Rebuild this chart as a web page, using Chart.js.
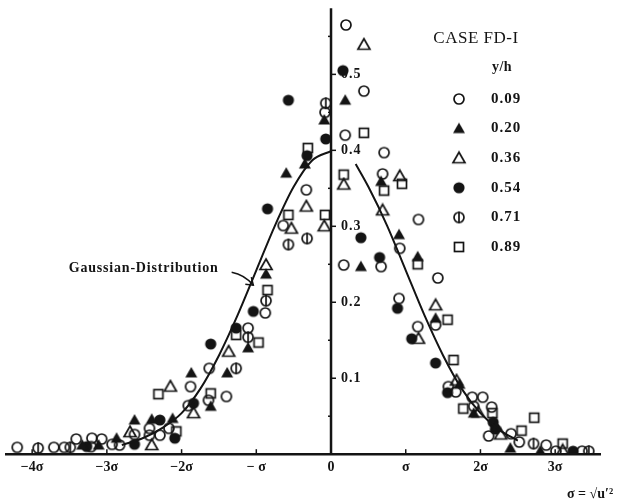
<!DOCTYPE html>
<html>
<head>
<meta charset="utf-8">
<script src="https://cdn.jsdelivr.net/npm/chart.js@4.4.1/dist/chart.umd.min.js"></script>
<style>
  body { margin: 0; background: #fff; }
  canvas { display: block; }
</style>
</head>
<body>
<canvas id="chart" width="626" height="500"></canvas>
<script>
const INK = '#141414';
const SERIF = '"Liberation Serif", "DejaVu Serif", serif';

// axes
const xTickValues = [-4, -3, -2, -1, 0, 1, 2, 3];
const xTickLabels = ['\u22124\u03c3', '\u22123\u03c3', '\u22122\u03c3', '\u2212 \u03c3', '0', '\u03c3', '2\u03c3', '3\u03c3'];
const yTickValues = [0.1, 0.2, 0.3, 0.4, 0.5];
const yTickLabels = ['0.1', '0.2', '0.3', '0.4', '0.5'];

// y/h legend labels
const seriesNames = ['0.09', '0.20', '0.36', '0.54', '0.71', '0.89'];

// measured points [u/sigma, probability density]
const s009 = [[-4.2, 0.009], [-3.71, 0.009], [-3.57, 0.009], [-3.41, 0.02], [-3.2, 0.021], [-3.21, 0.01], [-3.07, 0.02],
  [-2.93, 0.013], [-2.83, 0.012], [-2.63, 0.026], [-2.43, 0.034], [-2.43, 0.025], [-2.29, 0.025], [-2.17, 0.034],
  [-1.91, 0.064], [-1.88, 0.089], [-1.64, 0.071], [-1.63, 0.113], [-1.4, 0.076], [-1.11, 0.166], [-0.88, 0.186],
  [-0.64, 0.301], [-0.33, 0.348], [-0.08, 0.45], [0.2, 0.565], [0.44, 0.478], [0.19, 0.42], [0.71, 0.397],
  [0.69, 0.369], [0.17, 0.249], [0.67, 0.247], [0.92, 0.271], [1.17, 0.309], [1.43, 0.232], [0.91, 0.205],
  [1.16, 0.168], [1.4, 0.17], [1.57, 0.089], [1.67, 0.082], [1.89, 0.075], [2.03, 0.075], [1.91, 0.063],
  [2.15, 0.062], [2.11, 0.024], [2.41, 0.027], [2.52, 0.016], [2.88, 0.012], [3.01, 0.004], [3.36, 0.004]];
const s020 = [[-3.33, 0.012], [-3.11, 0.012], [-2.87, 0.021], [-2.63, 0.045], [-2.4, 0.046], [-2.12, 0.047],
  [-1.87, 0.107], [-1.61, 0.063], [-1.39, 0.107], [-1.11, 0.14], [-0.87, 0.237], [-0.6, 0.37], [-0.35, 0.382],
  [-0.09, 0.44], [0.19, 0.466], [0.67, 0.359], [0.4, 0.247], [0.91, 0.289], [1.16, 0.26], [1.4, 0.179],
  [1.72, 0.092], [1.91, 0.054], [2.21, 0.037], [2.4, 0.008], [2.8, 0.004]];
const s036 = [[-2.69, 0.029], [-2.4, 0.012], [-2.15, 0.089], [-1.84, 0.054], [-1.37, 0.135], [-0.87, 0.249],
  [-0.53, 0.297], [-0.33, 0.326], [-0.09, 0.3], [0.17, 0.355], [0.44, 0.539], [0.69, 0.321], [0.92, 0.366],
  [1.17, 0.152], [1.4, 0.196], [1.68, 0.097], [1.97, 0.055], [2.27, 0.026], [3.1, 0.005]];
const s054 = [[-3.27, 0.01], [-2.63, 0.013], [-2.29, 0.045], [-2.09, 0.021], [-1.84, 0.067], [-1.61, 0.145],
  [-1.27, 0.166], [-1.04, 0.188], [-0.85, 0.323], [-0.57, 0.466], [-0.32, 0.393], [-0.07, 0.415], [0.16, 0.505],
  [0.4, 0.285], [0.65, 0.259], [0.89, 0.192], [1.08, 0.152], [1.4, 0.12], [1.56, 0.081], [2.17, 0.042],
  [2.2, 0.033], [3.24, 0.004]];
const s071 = [[-3.92, 0.008], [-3.49, 0.009], [-1.27, 0.113], [-1.11, 0.154], [-0.87, 0.202], [-0.57, 0.276],
  [-0.32, 0.284], [-0.07, 0.462], [2.71, 0.014], [3.45, 0.004]];
const s089 = [[-2.31, 0.079], [-2.07, 0.03], [-1.61, 0.08], [-1.27, 0.157], [-0.97, 0.147], [-0.85, 0.216],
  [-0.57, 0.315], [-0.31, 0.403], [-0.08, 0.315], [0.17, 0.368], [0.44, 0.423], [0.71, 0.347], [0.95, 0.356],
  [1.16, 0.25], [1.56, 0.177], [1.64, 0.124], [1.77, 0.06], [2.16, 0.054], [2.55, 0.031], [2.72, 0.048], [3.1, 0.014]];

// gaussian curve as drawn (gap where the 0.4 label sits)
const curveX = [-2.8, -2.5, -2.25, -2, -1.75, -1.5, -1.25, -1, -0.75, -0.5, -0.25, 0, 0.15, 0.33, 0.5, 0.75, 1, 1.25, 1.5, 1.75, 2, 2.25, 2.5];
const curveY = [0.012, 0.022, 0.035, 0.054, 0.086, 0.13, 0.183, 0.242, 0.301, 0.352, 0.387, 0.399, null, 0.382, 0.352, 0.301, 0.242, 0.183, 0.13, 0.086, 0.054, 0.032, 0.018];

// marker pictures used as pointStyle
function makeMarker(kind) {
    const c = document.createElement('canvas');
    c.width = 16; c.height = 16;
    const g = c.getContext('2d');
    const m = 8;
    g.strokeStyle = INK; g.fillStyle = INK; g.lineWidth = 1.7;
    g.beginPath();
    if (kind === 'circle' || kind === 'phi') {
        g.arc(m, m, 5, 0, Math.PI * 2);
        g.stroke();
        if (kind === 'phi') {
            g.beginPath(); g.moveTo(m, m - 6); g.lineTo(m, m + 6); g.stroke();
        }
    } else if (kind === 'dot') {
        g.arc(m, m, 5.6, 0, Math.PI * 2);
        g.fill();
    } else if (kind === 'tri' || kind === 'filledTri') {
        g.moveTo(m, m - 6); g.lineTo(m + 6, m + 4.5); g.lineTo(m - 6, m + 4.5); g.closePath();
        if (kind === 'filledTri') g.fill(); else g.stroke();
    } else if (kind === 'square') {
        g.strokeRect(m - 4.5, m - 4.5, 9, 9);
    }
    return c;
}

const markerKinds = ['circle', 'filledTri', 'tri', 'dot', 'phi', 'square'];
const markers = markerKinds.map(makeMarker);
const allSeries = [s009, s020, s036, s054, s071, s089];

const datasets = allSeries.map((s, i) => ({
    label: seriesNames[i],
    data: s.map(p => ({ x: p[0], y: p[1] })),
    pointStyle: markers[i],
    pointRadius: 5,
    showLine: false
}));

datasets.unshift({
    label: 'Gaussian-Distribution',
    data: curveX.map((x, i) => ({ x: x, y: curveY[i] })),
    showLine: true,
    spanGaps: false,
    pointRadius: 0,
    borderColor: INK,
    borderWidth: 2,
    cubicInterpolationMode: 'monotone'
});

// y axis at u = 0, tick marks on the x axis, legend and notes
const extras = {
    id: 'extras',
    beforeDatasetsDraw(chart) {
        const ctx = chart.ctx;
        const xs = chart.scales.x, ys = chart.scales.y;
        const x0 = xs.getPixelForValue(0);
        const yb = ys.getPixelForValue(0);
        ctx.save();
        ctx.strokeStyle = INK;
        ctx.lineWidth = 2.5;
        ctx.beginPath();
        ctx.moveTo(x0, yb);
        ctx.lineTo(x0, ys.getPixelForValue(0.587));
        ctx.stroke();

        ctx.lineWidth = 1.5;
        yTickValues.forEach(v => {
            const y = ys.getPixelForValue(v);
            ctx.beginPath(); ctx.moveTo(x0, y); ctx.lineTo(x0 + 5, y); ctx.stroke();
            const ym = ys.getPixelForValue(v - 0.05);
            ctx.beginPath(); ctx.moveTo(x0 - 3, ym); ctx.lineTo(x0, ym); ctx.stroke();
        });
        ctx.beginPath();
        const ym = ys.getPixelForValue(0.55);
        ctx.moveTo(x0 - 3, ym); ctx.lineTo(x0, ym); ctx.stroke();

        xTickValues.forEach(v => {
            if (v === 0) return;
            const x = xs.getPixelForValue(v);
            ctx.beginPath(); ctx.moveTo(x, yb); ctx.lineTo(x, yb - 5); ctx.stroke();
        });

        ctx.fillStyle = INK;
        ctx.font = 'bold 14px ' + SERIF;
        ctx.letterSpacing = '1px';
        ctx.textAlign = 'left';
        ctx.textBaseline = 'middle';
        yTickValues.forEach((v, i) => {
            ctx.fillText(yTickLabels[i], x0 + 10, ys.getPixelForValue(v));
        });
        ctx.restore();
    },
    afterDraw(chart) {
        const ctx = chart.ctx;
        const xs = chart.scales.x, ys = chart.scales.y;
        ctx.save();
        ctx.fillStyle = INK;
        ctx.strokeStyle = INK;

        // legend
        ctx.textBaseline = 'middle';
        ctx.textAlign = 'center';
        ctx.font = '17px ' + SERIF;
        ctx.letterSpacing = '0.5px';
        ctx.fillText('CASE FD-I', 476, 39);
        ctx.font = 'bold 14px ' + SERIF;
        ctx.fillText('y/h', 502, 67);
        ctx.textAlign = 'left';
        ctx.font = 'bold 15px ' + SERIF;
        ctx.letterSpacing = '1px';
        markers.forEach((img, i) => {
            const y = 99 + i * 29.6;
            ctx.drawImage(img, 459 - 8, y - 8);
            ctx.fillText(seriesNames[i], 491, y);
        });

        // curve label with arrow
        ctx.font = 'bold 14px ' + SERIF;
        ctx.letterSpacing = '0.8px';
        ctx.fillText('Gaussian-Distribution', xs.getPixelForValue(-3.51), ys.getPixelForValue(0.245));
        const ax = xs.getPixelForValue(-1.33), ay = ys.getPixelForValue(0.2395);
        const bx = xs.getPixelForValue(-1.04), by = ys.getPixelForValue(0.2225);
        ctx.lineWidth = 1.5;
        ctx.beginPath();
        ctx.moveTo(ax, ay);
        ctx.quadraticCurveTo((ax + bx) / 2 + 2, (ay + by) / 2 - 4, bx, by);
        ctx.stroke();
        ctx.beginPath();
        ctx.moveTo(bx - 8, by - 1);
        ctx.lineTo(bx, by);
        ctx.lineTo(bx - 2, by - 8);
        ctx.stroke();

        // axis note
        ctx.font = 'bold 14px ' + SERIF;
        ctx.letterSpacing = '0px';
        ctx.textBaseline = 'alphabetic';
        ctx.fillText('\u03c3 = \u221au\u2032\u00b2', 567, 498);
        ctx.restore();
    }
};

new Chart(document.getElementById('chart'), {
    type: 'scatter',
    data: { datasets: datasets },
    options: {
        responsive: false,
        animation: false,
        layout: { padding: { left: 4, right: 26, top: 3, bottom: 19 } },
        plugins: { legend: { display: false }, tooltip: { enabled: false } },
        scales: {
            x: {
                type: 'linear', min: -4.35, max: 3.6,
                afterBuildTicks: s => { s.ticks = xTickValues.map(v => ({ value: v })); },
                border: { display: true, color: INK, width: 2.5 },
                grid: { display: true, drawOnChartArea: false, drawTicks: false },
                ticks: {
                    color: INK, padding: 5, maxRotation: 0, autoSkip: false,
                    font: { family: SERIF, size: 14, weight: 'bold' },
                    callback: v => xTickLabels[xTickValues.indexOf(v)]
                }
            },
            y: { type: 'linear', min: 0, max: 0.59, display: false }
        }
    },
    plugins: [extras]
});
</script>
</body>
</html>
